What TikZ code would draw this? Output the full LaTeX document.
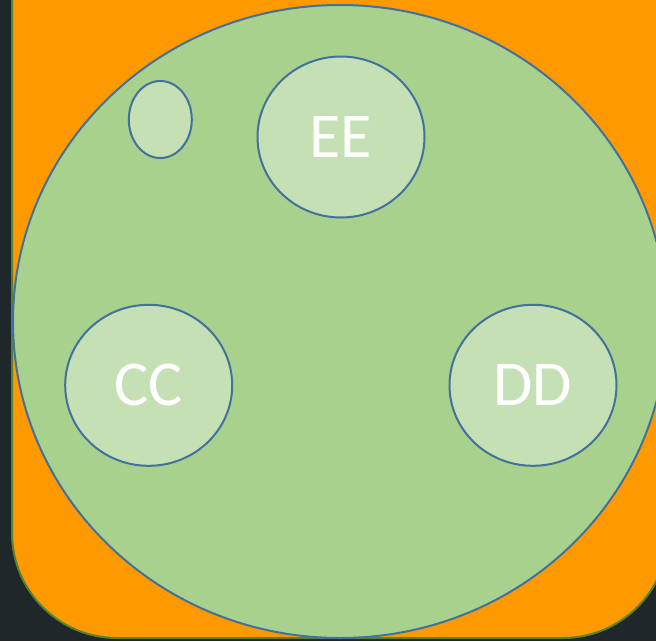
\documentclass[tikz,border=0pt]{standalone}
\usepackage{fontspec}
\newfontfamily\bubblefont{Carlito}
\usetikzlibrary{shapes.geometric}
\definecolor{slate}{HTML}{1F272A}
\definecolor{boardorange}{HTML}{FF9900}
\definecolor{leafgreen}{HTML}{548235}
\definecolor{midgreen}{HTML}{A9D18E}
\definecolor{palegreen}{HTML}{C5E0B4}
\definecolor{edgeblue}{HTML}{41719C}

\begin{document}
\begin{tikzpicture}[x=1pt,y=-1pt,
		bubble/.style={ellipse, draw=edgeblue, line width=2pt, fill=palegreen,
			inner sep=0pt, minimum width=167pt, minimum height=161pt,
			text=white, font=\bubblefont\fontsize{64}{64}\selectfont}]
		% Background and page size
		\fill[slate] (0,0) rectangle (656,641);
		\useasboundingbox (0,0) rectangle (656,641);
		
		% Orange board, its top runs off the page
		\draw[line width=2pt, draw=leafgreen, fill=boardorange, rounded corners=105pt]
			(12,-300) rectangle (668,638);
		
		% Big green circle
		\draw[line width=2pt, draw=edgeblue, fill=midgreen]
			(340,321.5) ellipse [x radius=327pt, y radius=316.5pt];
		
		% Inner circles
		\node[bubble, minimum width=63pt, minimum height=77pt] (dot) at (160.3,119.5) {};
		\node[bubble] (ee) at (341,137) {EE};
		\node[bubble] (cc) at (148.7,385.3) {CC};
		\node[bubble] (dd) at (533,385.3) {DD};
	\end{tikzpicture}
\end{document}
